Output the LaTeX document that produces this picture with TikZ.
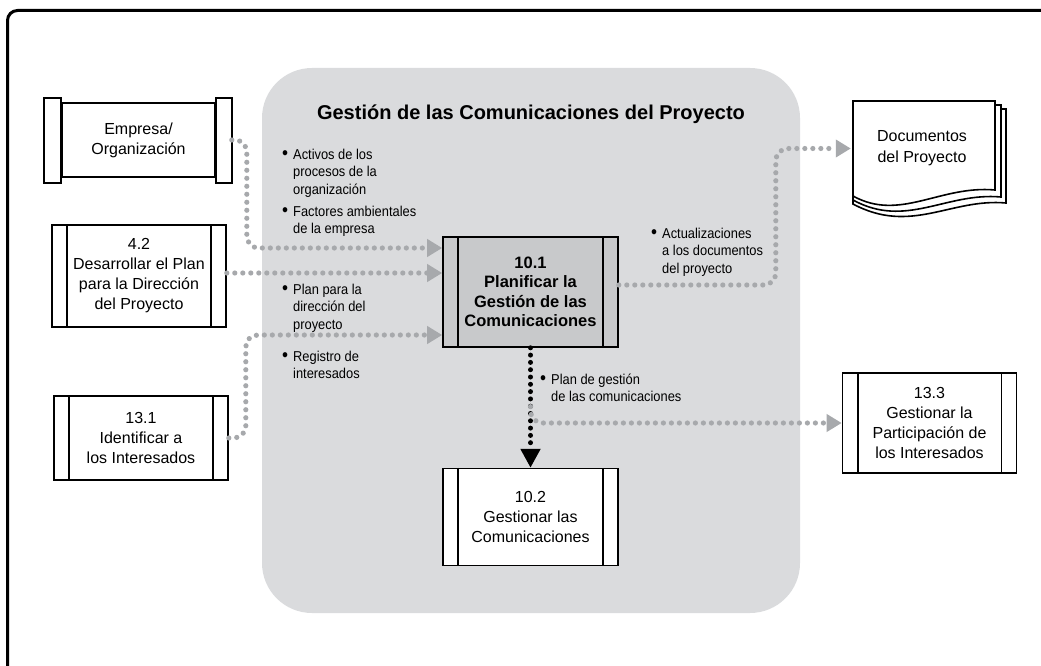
\documentclass[tikz,border=0pt]{standalone}
\usepackage{fontspec}
\setmainfont{Liberation Sans}
\newfontfamily\condfont[FakeStretch=0.9]{Liberation Sans}
\usetikzlibrary{arrows.meta,positioning,calc}

\definecolor{areagray}{RGB}{218,219,221}
\definecolor{boxgray}{RGB}{200,201,203}
\definecolor{feedgray}{RGB}{167,169,172}

\newcommand{\bl}{\makebox[11pt][l]{\raisebox{-0.8pt}{\fontsize{19}{19}\selectfont\textbullet}}}
\newcommand{\ind}{\hspace*{11pt}}
\newcommand{\inlist}[1]{\begin{tabular}[t]{@{}l@{}}#1\end{tabular}}
% one sheet of the document stack: top y, right x, left bottom y, right bottom y
\newcommand{\docpage}[4]{%
  \filldraw[fill=white,line width=1.6pt,line join=miter]
    (853,#1) -- (#2,#1) -- (#2,#4)
    .. controls ({#2-55},{#4-5}) and ({#2-95},{#4+32}) .. (853,#3) -- cycle;}

\tikzset{
  proc/.style={draw,line width=1.6pt,fill=white,minimum width=174pt,inner sep=0pt,
    align=center,font=\fontsize{16}{20}\selectfont},
  feed/.style={feedgray,line width=5.2pt,line cap=round,dash pattern=on 0pt off 8pt,
    rounded corners=12pt,-{Triangle[length=15pt,width=17pt]}},
  flow/.style={black,line width=5pt,line cap=round,dash pattern=on 0pt off 7.3pt,
    -{Triangle[length=19pt,width=19pt]}},
  inlabel/.style={anchor=base west,inner sep=0pt,font=\condfont\fontsize{14.3}{17.7}\selectfont},
}

\begin{document}
\begin{tikzpicture}[x=1pt,y=-1pt]
  \useasboundingbox (0,0) rectangle (1041,666);
  \clip (0,0) rectangle (1041,666);
  \draw[line width=3pt,rounded corners=10pt] (7.5,10.5) rectangle (1090,720);

  % process group
  \fill[areagray,rounded corners=50pt] (262,68) rectangle (800,613);
  \node[font=\bfseries\fontsize{20}{24}\selectfont] (title) at (531,114)
    {Gestión de las Comunicaciones del Proyecto};

  % boxes
  \node[proc,minimum width=153pt,minimum height=74pt] (emp) at (138.5,140) {Empresa/\\Organización};
  \draw[line width=1.6pt] ([xshift=-17pt,yshift=4pt]emp.north west) rectangle ([yshift=-5pt]emp.south west);
  \draw[line width=1.6pt] ([yshift=4pt]emp.north east) rectangle ([xshift=16pt,yshift=-5pt]emp.south east);
  \node[proc,minimum height=102pt] (d42) at (139,276) {4.2\\Desarrollar el Plan\\para la Dirección\\del Proyecto};
  \node[proc,minimum height=84pt] (i131) at (141,438) {13.1\\Identificar a\\los Interesados};
  \node[proc,fill=boxgray,minimum width=175pt,minimum height=110pt,
    font=\bfseries\fontsize{16.5}{19.5}\selectfont] (p101) at (530.5,292)
    {10.1\\Planificar la\\Gestión de las\\Comunicaciones};
  \node[proc,minimum width=175pt,minimum height=97pt,below=120pt of p101] (g102)
    {10.2\\Gestionar las\\Comunicaciones};
  \node[proc,minimum width=174pt,minimum height=100pt] (g133) at (929.5,423)
    {13.3\\Gestionar la\\Participación de\\los Interesados};
  \foreach \b in {d42,i131,p101,g102,g133} {
    \draw[line width=1.6pt] ([xshift=16pt]\b.north west) -- ([xshift=16pt]\b.south west);
    \draw[line width=1.6pt] ([xshift=-16pt]\b.north east) -- ([xshift=-16pt]\b.south east);
  }

  % document stack
  \docpage{109}{1006}{204}{203}
  \docpage{105}{1001}{200}{197}
  \docpage{101}{995}{196}{190}
  \node[minimum width=142pt,minimum height=95pt,inner sep=0pt,align=center,
    font=\fontsize{16}{21}\selectfont] (docs) at (922,148.5) {Documentos\\del Proyecto};

  % inputs and outputs
  \node[inlabel] (opa) at (282,159) {\inlist{\bl Activos de los\\\ind procesos de la\\\ind organización}};
  \node[inlabel] (eef) at (282,216) {\inlist{\bl Factores ambientales\\\ind de la empresa}};
  \node[inlabel] (pmp) at (282,294) {\inlist{\bl Plan para la\\\ind dirección del\\\ind proyecto}};
  \node[inlabel] (reg) at (282,361) {\inlist{\bl Registro de\\\ind interesados}};
  \node[inlabel] (upd) at (651,238) {\inlist{\bl Actualizaciones\\\ind a los documentos\\\ind del proyecto}};
  \node[inlabel] (cmp) at (540,384) {\inlist{\bl Plan de gestión\\\ind de las comunicaciones}};

  % connectors
  \draw[flow] (p101.south) -- (g102.north);
  \coordinate (tap) at ($(p101.south)!0.49!(g102.north)$);
  \draw[feed] ([xshift=16pt]emp.east) -- ++(15,0) |- ([yshift=44pt]p101.west);
  \draw[feed] ([yshift=19pt]p101.west -| d42.east) -- ([yshift=19pt]p101.west);
  \draw[feed] (i131.east) -- ++(17,0) |- ([yshift=-43pt]p101.west);
  \draw[feed] ([yshift=7pt]p101.east) -- ++(157,0) |- (docs.west);
  \draw[feed] (tap) |- (g133.west);
\end{tikzpicture}
\end{document}
